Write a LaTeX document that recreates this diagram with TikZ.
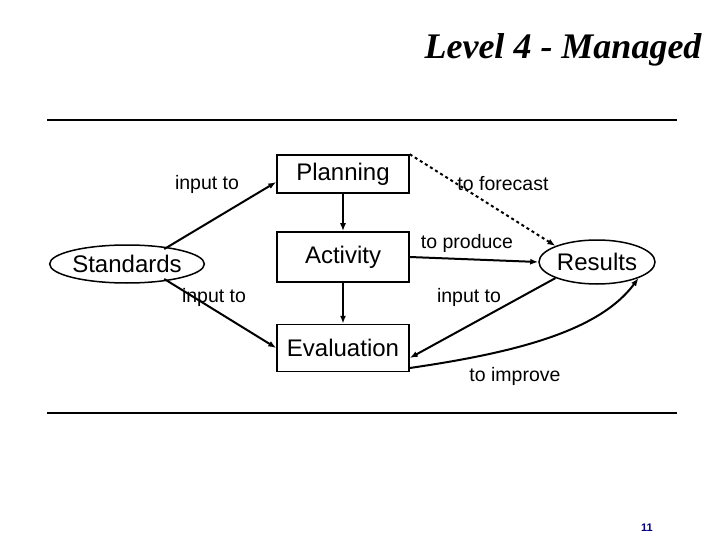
\documentclass[tikz,border=0pt]{standalone}
\usepackage{fontspec}
\setmainfont{Liberation Sans}
\newfontfamily\titlefont{Liberation Serif}
\usetikzlibrary{shapes.geometric,arrows.meta}
\begin{document}
\begin{tikzpicture}[x=1pt,y=-1pt,>={Latex[length=8pt,width=6pt]},
    box/.style={draw,line width=1.5pt,minimum width=132pt,font=\fontsize{24}{27}\selectfont},
    oval/.style={draw,line width=1.5pt,ellipse,inner sep=0pt,font=\fontsize{24}{27}\selectfont},
    lbl/.style={font=\fontsize{19.5}{22}\selectfont},
    link/.style={line width=2pt,->}]
    \useasboundingbox (0,0) rectangle (720,540);
    % title and rules
    \node[anchor=east,font=\titlefont\bfseries\itshape\fontsize{36}{40}\selectfont] (title) at (705,50) {Level 4 - Managed};
    \draw[line width=1.5pt] (47,120) -- (677,120);
    \draw[line width=1.5pt] (47,413) -- (677,413);
    % nodes
    \node[box,minimum height=38pt] (plan) at (343,174) {Planning};
    \node[box,minimum height=50pt] (act) at (343,257) {Activity};
    \node[box,minimum height=47pt] (eval) at (343,348) {Evaluation};
    \node[oval,minimum width=136pt,minimum height=38pt] (std) at (127,264) {Standards};
    \node[oval,minimum width=116pt,minimum height=44pt] (res) at (597,262) {Results};
    % connectors
    \draw[link] (std.north east) ++(-18,-1) coordinate (s1) (s1) -- (plan.west |- 0,182);
    \draw[link] (std.south east) ++(-18,1) coordinate (s2) (s2) -- (eval.west);
    \draw[link] (plan) -- (act);
    \draw[link] (act) -- (eval);
    \draw[link] (act.east) -- (res.west);
    \draw[link,dashed] (plan.north east) -- (res.north west);
    \draw[link] (res.south west) -- (eval.east |- 0,358);
    \draw[link] (eval.east |- 0,368) .. controls (520,352) and (600,330) .. (res.south east);
    % labels
    \node[lbl] (l1) at (207,184) {input to};
    \node[lbl] (l2) at (214,297) {input to};
    \node[lbl] (l3) at (503,184) {to forecast};
    \node[lbl] (l4) at (467,243) {to produce};
    \node[lbl] (l5) at (469,297) {input to};
    \node[lbl] (l6) at (515,376) {to improve};
    \node[font=\fontsize{11}{12}\selectfont\bfseries,text={rgb,255:red,0;green,0;blue,128}] (page) at (647,528) {11};
\end{tikzpicture}
\end{document}
